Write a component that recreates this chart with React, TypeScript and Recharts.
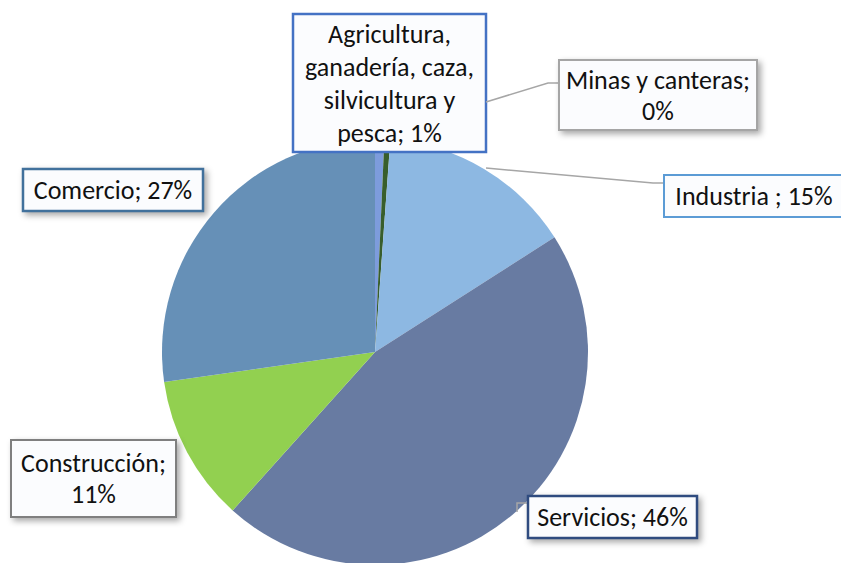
import React from 'react';
import { PieChart, Pie, Cell } from 'recharts';

const categories = [
  'Agricultura, ganadería, caza, silvicultura y pesca',
  'Minas y canteras',
  'Industria ',
  'Servicios',
  'Construcción',
  'Comercio',
];
const values = [0.7, 0.45, 14.8, 45.7, 11.1, 27.25];
const labelLines = [
  ['Agricultura,', 'ganadería, caza,', 'silvicultura y', 'pesca; 1%'],
  ['Minas y canteras;', '0%'],
  ['Industria ; 15%'],
  ['Servicios; 46%'],
  ['Construcción;', '11%'],
  ['Comercio; 27%'],
];
const colors = ['#7D9CDC', '#385E2C', '#8DB8E2', '#687BA2', '#92D050', '#6690B7'];

const data = categories.map((name, i) => ({ name, value: values[i] }));

// label box layout (position/style only)
const boxes = [
  { x: 293, y: 14, w: 193, h: 138, border: '#4472C4', bw: 2.5, lh: 33, shadow: false, leader: null },
  { x: 559, y: 60, w: 198, h: 70, border: '#A5A5A5', bw: 2, lh: 31, shadow: true, leader: [[486, 102], [548, 83], [559, 83]] },
  { x: 664, y: 175, w: 180, h: 42, border: '#5B9BD5', bw: 2, lh: 31, shadow: false, leader: [[486, 168], [653, 183], [664, 183]] },
  { x: 528, y: 496, w: 169, h: 42, border: '#2F4B7F', bw: 2.5, lh: 31, shadow: true, leader: [[517, 512], [517, 503], [528, 503]] },
  { x: 11, y: 440, w: 165, h: 77, border: '#7F7F7F', bw: 2, lh: 31, shadow: true, leader: null },
  { x: 23, y: 169, w: 180, h: 42, border: '#41719C', bw: 2.5, lh: 31, shadow: true, leader: null },
];

const renderLabel = (props: any) => {
  const i = props.index;
  const b = boxes[i];
  const lines = labelLines[i];
  const cx = b.x + b.w / 2;
  const totalH = lines.length * b.lh;
  const startY = b.y + (b.h - totalH) / 2 + b.lh / 2;
  return (
    <g key={'lbl' + i}>
      {b.leader && (
        <polyline
          points={b.leader.map((p) => p.join(',')).join(' ')}
          fill="none"
          stroke="#A6A6A6"
          strokeWidth={1.5}
        />
      )}
      <rect
        x={b.x}
        y={b.y}
        width={b.w}
        height={b.h}
        fill="#FBFCFE"
        stroke={b.border}
        strokeWidth={b.bw}
        style={b.shadow ? { filter: 'drop-shadow(3px 3px 3px rgba(0,0,0,0.35))' } : undefined}
      />
      {lines.map((t, k) => (
        <text
          key={k}
          x={cx}
          y={startY + k * b.lh}
          textAnchor="middle"
          dominantBaseline="central"
          fontFamily="Carlito, Lato, sans-serif"
          fontSize={26}
          fill="#111"
        >
          {t}
        </text>
      ))}
    </g>
  );
};

export default function App() {
  return (
    <div style={{ position: 'fixed', left: 0, top: 0, width: 841, height: 563, background: '#fff' }}>
      <PieChart width={841} height={563} margin={{ top: 0, right: 0, bottom: 0, left: 0 }}>
        <Pie
          data={data}
          dataKey="value"
          nameKey="name"
          cx={375}
          cy={352}
          outerRadius={213}
          startAngle={90}
          endAngle={-270}
          stroke="none"
          isAnimationActive={false}
          labelLine={false}
          label={renderLabel}
        >
          {data.map((d, i) => (
            <Cell key={i} fill={colors[i]} />
          ))}
        </Pie>
      </PieChart>
    </div>
  );
}
